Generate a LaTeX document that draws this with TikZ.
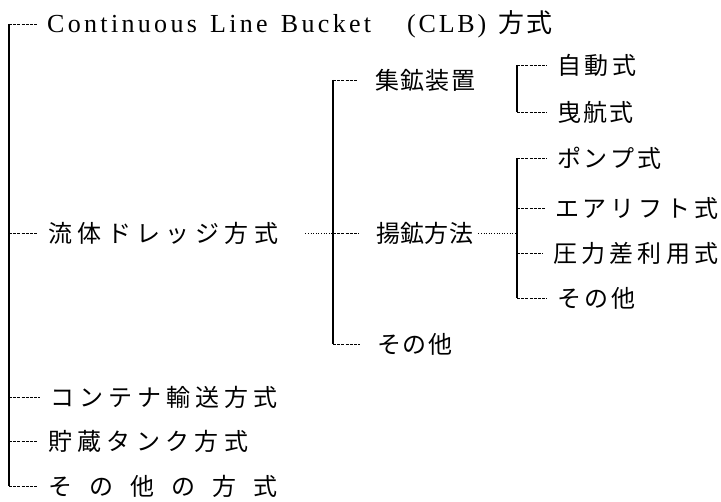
\documentclass[tikz,border=0pt]{standalone}
\usepackage{fontspec}
\setmainfont{Liberation Serif}
\newfontfamily\cjk{Noto Sans CJK JP}
\makeatletter
\newcommand\sprd[2]{\hbox to #1{\@tfor\sp@ch:=#2\do{\sp@ch\hfil}\unskip}}
\makeatother
\begin{document}
\begin{tikzpicture}[x=1pt,y=-1pt,
  lab/.style={anchor=west,inner sep=0pt,font=\cjk\fontsize{24}{27}\selectfont},
  vline/.style={line width=1.1pt},
  tick/.style={line width=0.7pt,dash pattern=on 3pt off 1.2pt},
  dots/.style={line width=0.7pt,dash pattern=on 1pt off 1.6pt}]
\useasboundingbox (0,0) rectangle (721,502);
\fill[white] (0,0) rectangle (721,502);
\coordinate (vA) at (9,0);
\coordinate (vB) at (333,0);
\coordinate (vC) at (517,0);
% level 1
\node[lab,font=\fontsize{26}{30}\selectfont] (clb) at (47,24)
  {\sprd{324pt}{Continuous~Line~Bucket}\hspace{36pt}\sprd{79pt}{(CLB)}\hspace{12pt}{\cjk\sprd{54pt}{方式}}};
\node[lab] (ryutai) at (48,233) {\sprd{230pt}{流体ドレッジ方式}};
\node[lab] (container) at (50,397) {\sprd{227pt}{コンテナ輸送方式}};
\node[lab] (chozo) at (48,441) {\sprd{200pt}{貯蔵タンク方式}};
\node[lab] (sonota0) at (48,486) {\sprd{229pt}{その他の方式}};
% level 2
\node[lab] (shuko) at (375,80) {\sprd{100pt}{集鉱装置}};
\node[lab] (yoko) at (376,233) {\sprd{97pt}{揚鉱方法}};
\node[lab] (sonota1) at (377,344) {\sprd{75pt}{その他}};
% level 3
\node[lab] (jido) at (557,65) {\sprd{79pt}{自動式}};
\node[lab] (eiko) at (557,112) {\sprd{76pt}{曳航式}};
\node[lab] (pump) at (557,158) {\sprd{104pt}{ポンプ式}};
\node[lab] (air) at (555,208) {\sprd{163pt}{エアリフト式}};
\node[lab] (atsu) at (553,253) {\sprd{165pt}{圧力差利用式}};
\node[lab] (sonota2) at (557,298) {\sprd{78pt}{その他}};
% brackets
\draw[vline] (vA |- clb.west) -- (vA |- sonota0.west);
\draw[vline] (vB |- shuko.west) -- (vB |- sonota1.west);
\draw[vline] (vC |- jido.west) -- (vC |- eiko.west);
\draw[vline] (vC |- pump.west) -- (vC |- sonota2.west);
\foreach \n in {clb,ryutai,container,chozo,sonota0}
  \draw[tick] (vA |- \n.west) -- ([xshift=-10pt]\n.west);
\foreach \n in {shuko,yoko,sonota1}
  \draw[tick] (vB |- \n.west) -- ([xshift=-17pt]\n.west);
\foreach \n in {jido,eiko,pump,air,atsu,sonota2}
  \draw[tick] (vC |- \n.west) -- ([xshift=-10pt]\n.west);
\draw[dots] ([xshift=27pt]ryutai.east) -- (vB |- ryutai.east);
\draw[dots] ([xshift=5pt]yoko.east) -- (vC |- yoko.east);
\end{tikzpicture}
\end{document}
